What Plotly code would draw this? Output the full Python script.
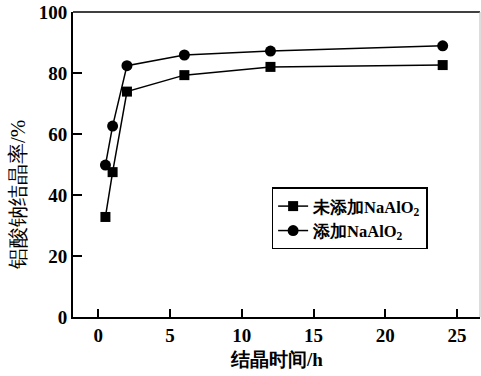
import plotly.graph_objects as go

time_h = [0.5, 1, 2, 6, 12, 24]
no_naalo2 = [32.8, 47.5, 73.9, 79.3, 82.0, 82.6]
with_naalo2 = [49.8, 62.6, 82.4, 85.9, 87.2, 88.9]

series_names = ["未添加NaAlO<sub>2</sub>", "添加NaAlO<sub>2</sub>"]
x_ticks = [0, 5, 10, 15, 20, 25]
y_ticks = [0, 20, 40, 60, 80, 100]
x_title = "结晶时间/h"
y_title = "铝酸钠结晶率/%"

FONT = "Times New Roman, Liberation Serif, serif"

fig = go.Figure()
fig.add_trace(go.Scatter(
    x=time_h, y=no_naalo2, name=series_names[0], mode="lines+markers",
    line=dict(color="black", width=1.5),
    marker=dict(symbol="square", size=10, color="black"),
))
fig.add_trace(go.Scatter(
    x=time_h, y=with_naalo2, name=series_names[1], mode="lines+markers",
    line=dict(color="black", width=1.5),
    marker=dict(symbol="circle", size=11, color="black"),
))

fig.update_layout(
    width=481, height=376,
    margin=dict(l=73, r=1, t=12, b=59),
    paper_bgcolor="white", plot_bgcolor="white",
    font=dict(family=FONT, color="black", size=19),
    showlegend=True,
    legend=dict(
        x=0.488, y=0.425, xanchor="left", yanchor="top",
        bordercolor="black", borderwidth=1.5, bgcolor="white",
        font=dict(family=FONT, size=16.5, color="black", weight="bold"),
        tracegroupgap=0, itemwidth=30,
    ),
    xaxis=dict(
        range=[-1.76, 26.6], tickvals=x_ticks, ticktext=[str(v) for v in x_ticks],
        ticks="inside", ticklen=8, tickwidth=1.5, tickcolor="black",
        showline=True, linewidth=2, linecolor="black", showgrid=False, zeroline=False,
        tickfont=dict(family=FONT, size=19, color="black", weight="bold"),
    ),
    yaxis=dict(
        range=[0, 100], tickvals=y_ticks, ticktext=[str(v) for v in y_ticks],
        ticks="inside", ticklen=9, tickwidth=1.5, tickcolor="black",
        showline=True, linewidth=2, linecolor="black", showgrid=False, zeroline=False,
        tickfont=dict(family=FONT, size=19, color="black", weight="bold"),
    ),
    annotations=[
        dict(text=x_title, xref="paper", yref="paper", x=0.5, y=-0.138,
             xanchor="center", yanchor="middle", showarrow=False,
             font=dict(family=FONT, size=19, color="black", weight="bold")),
        dict(text=y_title, xref="paper", yref="paper", x=-0.135, y=0.40,
             xanchor="center", yanchor="middle", showarrow=False, textangle=-90,
             font=dict(family=FONT, size=21, color="black")),
    ],
    shapes=[
        dict(type="line", xref="paper", yref="paper", x0=0, x1=1, y0=1, y1=1,
             line=dict(color="black", width=1.5)),
        dict(type="line", xref="paper", yref="paper", x0=1, x1=1, y0=0, y1=1,
             line=dict(color="#bbbbbb", width=1)),
    ],
)

fig.write_html("out.html")
